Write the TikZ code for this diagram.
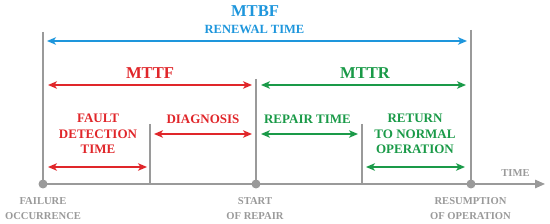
\documentclass[tikz,border=0pt]{standalone}
\usepackage{fontspec}
\setmainfont{Liberation Serif}
\usetikzlibrary{arrows.meta}
\definecolor{mblue}{HTML}{1E96DC}
\definecolor{mred}{HTML}{E0262A}
\definecolor{mgreen}{HTML}{1A9A48}
\definecolor{mgray}{HTML}{9A9A9A}
\tikzset{
  dbl/.style={line width=1.7pt, {Stealth[length=9pt,width=7.5pt,inset=2.5pt]}-{Stealth[length=9pt,width=7.5pt,inset=2.5pt]}},
  bluearr/.style={dbl, draw=mblue, line width=1.4pt},
  redarr/.style={dbl, draw=mred},
  greenarr/.style={dbl, draw=mgreen},
  tick/.style={draw=mgray, line width=1.5pt},
  dot/.style={circle, fill=mgray, inner sep=0pt, minimum size=9pt},
  big/.style={font=\fontsize{16.6}{19}\selectfont\bfseries, inner sep=0pt, anchor=base},
  mid/.style={font=\fontsize{13}{15.5}\selectfont\bfseries, inner sep=0pt, anchor=base, align=center},
  glab/.style={font=\fontsize{10.6}{14.5}\selectfont\bfseries, text=mgray, inner sep=0pt, anchor=base, align=center},
}
\begin{document}
\begin{tikzpicture}[x=1pt,y=-1pt]
\useasboundingbox (0,0) rectangle (550,224);
% axis points
\coordinate (a0) at (43,184);
\coordinate (a1) at (256,184);
\coordinate (a2) at (471,184);
\coordinate (tip) at (545,184);
\coordinate (q0) at (150,184);
\coordinate (q1) at (362,184);
\coordinate (t0) at (43,32);
\coordinate (t1) at (256,79);
\coordinate (t2) at (471,30);
\coordinate (u0) at (150,124);
\coordinate (u1) at (362,124);
% axis and ticks
\draw[tick, -{Triangle[length=10pt,width=8.5pt]}] (a0) -- (tip);
\draw[tick] (t0) -- (a0);
\draw[tick] (t1) -- (a1);
\draw[tick] (t2) -- (a2);
\draw[tick] (u0) -- (q0);
\draw[tick] (u1) -- (q1);
\node[dot] (p0) at (a0) {};
\node[dot] (p1) at (a1) {};
\node[dot] (p2) at (a2) {};
% arrows
\coordinate (b0) at (47,41);   \coordinate (b1) at (467,41);
\coordinate (f0) at (48,85);   \coordinate (f1) at (252,85);
\coordinate (r0) at (261,85);  \coordinate (r1) at (466,85);
\coordinate (d0) at (48,167);  \coordinate (d1) at (147,167);
\coordinate (g0) at (154,134); \coordinate (g1) at (252,134);
\coordinate (e0) at (261,134); \coordinate (e1) at (358,134);
\coordinate (n0) at (366,167); \coordinate (n1) at (465,167);
\draw[bluearr] (b0) -- (b1);
\draw[redarr] (f0) -- (f1);
\draw[greenarr] (r0) -- (r1);
\draw[redarr] (d0) -- (d1);
\draw[redarr] (g0) -- (g1);
\draw[greenarr] (e0) -- (e1);
\draw[greenarr] (n0) -- (n1);
% labels
\node[big, text=mblue] (mtbf) at (255,17) {MTBF};
\node[mid, text=mblue, font=\fontsize{12.5}{15}\selectfont\bfseries] (renew) at (254.5,34) {RENEWAL TIME};
\node[big, text=mred] (mttf) at (150,79) {MTTF};
\node[big, text=mgreen] (mttr) at (365,79) {MTTR};
\node[mid, text=mred] (fdt) at (98,154) {FAULT\\DETECTION\\TIME};
\node[mid, text=mred] (diag) at (203,123.5) {DIAGNOSIS};
\node[mid, text=mgreen] (rep) at (307.5,123.5) {REPAIR TIME};
\node[mid, text=mgreen] (ret) at (415,154) {RETURN\\TO NORMAL\\OPERATION};
\node[glab] (time) at (515.5,177) {TIME};
\node[glab] (fail) at (43,219.5) {FAILURE\\OCCURRENCE};
\node[glab] (start) at (255,219.5) {START\\OF REPAIR};
\node[glab] (resum) at (470.5,219.5) {RESUMPTION\\OF OPERATION};
\end{tikzpicture}
\end{document}
